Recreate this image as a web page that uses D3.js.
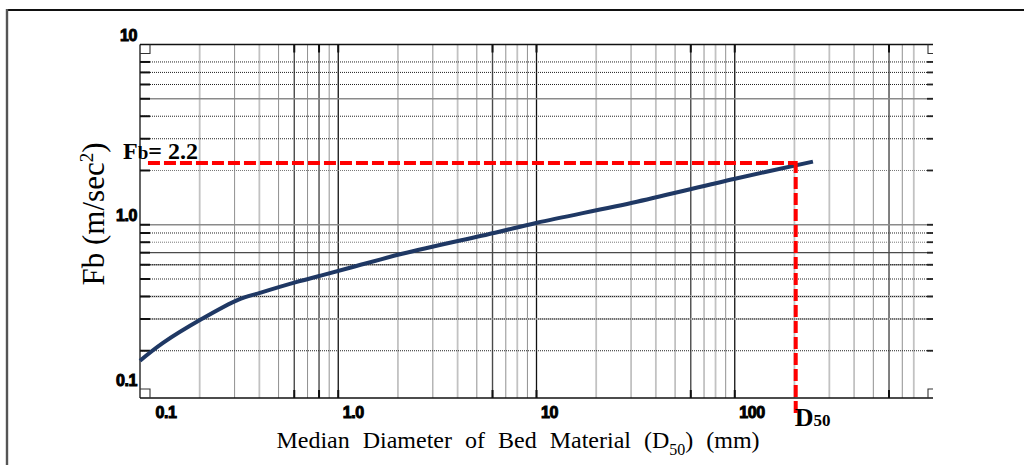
<!DOCTYPE html>
<html><head><meta charset="utf-8">
<script src="https://cdn.jsdelivr.net/npm/d3@7/dist/d3.min.js"></script>
<style>body{margin:0;background:#fff;} svg{display:block;}</style>
</head><body>
<svg id="c" width="1024" height="465"></svg>
<script>
// ---------------- data ----------------
const xTickValues = [0.1, 1, 10, 100];
const xTickLabels = ["0.1", "1.0", "10", "100"];
const yTickValues = [0.1, 1, 10];
const yTickLabels = ["0.1", "1.0", "10"];
const curveD50 = [0.1, 0.1306, 0.2056, 0.312, 0.403, 0.619, 0.809, 1.146, 2.10, 6.18, 10.06, 32.1, 100.3, 248];
const curveFb  = [0.176, 0.221, 0.3006, 0.383, 0.419, 0.482, 0.521, 0.577, 0.690, 0.903, 1.026, 1.342, 1.80, 2.239];
const markerFb = 2.2;
const markerD50 = 203;
const markerStartD50 = 0.1097;
const markerEndFb = 0.088;
const xDomain = [0.1, 1000];
const yDomain = [0.1, 10];

// ---------------- layout ----------------
const L = 140, R = 933, T = 44.5, Y01 = 405, FB = 398;
const svg = d3.select("#c");
const x = d3.scaleLog().domain(xDomain).range([L, R]);
const y = d3.scaleLog().domain(yDomain).range([Y01, T]);

// outer frame
svg.append("line").attr("x1", 7).attr("x2", 1024).attr("y1", 10).attr("y2", 10)
  .attr("stroke", "#111").attr("stroke-width", 2.2);
svg.append("line").attr("x1", 7).attr("x2", 7).attr("y1", 9).attr("y2", 465)
  .attr("stroke", "#555").attr("stroke-width", 2.4);

const styles = {
  major: {stroke: "#111", w: 1.3, dash: null},
  light: {stroke: "#c2c2c2", w: 1.8, dash: null},
  dot:   {stroke: "#222", w: 1, dash: "1,1"},
  dark:  {stroke: "#4a4a4a", w: 1.4, dash: null},
  gray:  {stroke: "#8a8a8a", w: 1.3, dash: null},
  lgdot: {stroke: "#777", w: 1, dash: "1,1"}
};

// vertical gridlines
const vLines = [];
[0.1, 1, 10, 100].forEach((base, di) => {
  d3.range(1, 10).forEach(m => {
    const v = base * m;
    let s;
    if (m === 1) s = "major";
    else if (m === 2 || m === 4) s = "light";
    else if (m === 3) s = di <= 1 ? "dot" : "light";
    else if (m === 5 || m === 7 || m === 9) s = "dot";
    else if (m === 6) s = "dark";
    else if (m === 8) s = di === 0 ? "dark" : "light";
    if (!(di === 3 && m === 9) && !(di === 0 && m === 1)) vLines.push({v, s});
  });
});
svg.append("g").selectAll("line").data(vLines).join("line")
  .attr("x1", d => x(d.v)).attr("x2", d => x(d.v))
  .attr("y1", T).attr("y2", FB)
  .attr("stroke", d => styles[d.s].stroke)
  .attr("stroke-width", d => styles[d.s].w)
  .attr("stroke-dasharray", d => styles[d.s].dash);

// horizontal gridlines
const hStyleMap = {
  "8": ["dot"], "7": ["dot"], "6": ["dot"], "5": ["gray"], "4": ["dot"], "3": ["dot"], "2": ["lgdot"],
  "1": ["gray"], "0.9": ["dot"], "0.8": ["lgdot"], "0.7": ["dark"], "0.6": ["gray", "dot"],
  "0.5": ["dot"], "0.4": ["light", "dot"], "0.3": ["light", "dot"], "0.2": ["dot"]
};
const hLines = [];
Object.keys(hStyleMap).forEach(k => hStyleMap[k].forEach(s => hLines.push({v: +k, s})));
svg.append("g").selectAll("line").data(hLines).join("line")
  .attr("x1", L).attr("x2", R)
  .attr("y1", d => y(d.v)).attr("y2", d => y(d.v))
  .attr("stroke", d => styles[d.s].stroke)
  .attr("stroke-width", d => styles[d.s].w)
  .attr("stroke-dasharray", d => styles[d.s].dash);

// short ticks on left and right for horizontal lines
const hVals = Object.keys(hStyleMap).map(Number);
svg.append("g").selectAll("line").data(hVals).join("line")
  .attr("x1", L).attr("x2", L + 10).attr("y1", d => y(d)).attr("y2", d => y(d))
  .attr("stroke", "#111").attr("stroke-width", 2);
svg.append("g").selectAll("line").data(hVals).join("line")
  .attr("x1", R - 6).attr("x2", R).attr("y1", d => y(d)).attr("y2", d => y(d))
  .attr("stroke", "#222").attr("stroke-width", 1.8);

// ticks on top/bottom for dark lines
const vTickVals = vLines.filter(d => d.s === "dark" || d.s === "major").map(d => d.v);
svg.append("g").selectAll("line").data(vTickVals).join("line")
  .attr("x1", d => x(d)).attr("x2", d => x(d)).attr("y1", FB - 8).attr("y2", FB)
  .attr("stroke", "#111").attr("stroke-width", 2);
svg.append("g").selectAll("line").data(vTickVals).join("line")
  .attr("x1", d => x(d)).attr("x2", d => x(d)).attr("y1", T).attr("y2", T + 8)
  .attr("stroke", "#111").attr("stroke-width", 2);

// frame lines
svg.append("line").attr("x1", L).attr("x2", R).attr("y1", T).attr("y2", T).attr("stroke", "#111").attr("stroke-width", 1.5);
svg.append("line").attr("x1", L).attr("x2", R).attr("y1", FB).attr("y2", FB).attr("stroke", "#111").attr("stroke-width", 1.5);
svg.append("line").attr("x1", L).attr("x2", L).attr("y1", T).attr("y2", FB).attr("stroke", "#111").attr("stroke-width", 1.3);

// small corner boxes
const cb = svg.append("g").attr("fill", "none").attr("stroke", "#333").attr("stroke-width", 1.1);
cb.append("path").attr("d", `M${L},${T+9}H${L+10}V${T}`);
cb.append("path").attr("d", `M${L},${FB-9}H${L+10}V${FB}`);
cb.append("path").attr("d", `M${R},${T+9}H${R-5}V${T}`);
cb.append("path").attr("d", `M${R},${FB-9}H${R-5}V${FB}`);

// axes labels
const tickFont = "'Liberation Sans', Arial, sans-serif";
const xAxis = d3.axisBottom(x).tickValues(xTickValues)
  .tickFormat((d, i) => xTickLabels[i]).tickSize(0);
const gx = svg.append("g").attr("transform", `translate(0,${FB})`).call(xAxis);
gx.select(".domain").remove();
gx.selectAll("text")
  .attr("y", 20).attr("dy", 0)
  .attr("x", (d, i) => i === 0 ? 15 : 4)
  .attr("text-anchor", "start")
  .style("font-family", tickFont)
  .style("font-weight", "bold").style("font-size", "16px")
  .style("letter-spacing", "-0.4px")
  .attr("fill", "#000").attr("stroke", "#000").attr("stroke-width", 1);

const yAxis = d3.axisLeft(y).tickValues(yTickValues)
  .tickFormat((d, i) => yTickLabels[i]).tickSize(0);
const gy = svg.append("g").attr("transform", `translate(${L - 3},0)`).call(yAxis);
gy.select(".domain").remove();
gy.selectAll("text")
  .attr("x", 0).attr("dy", 0)
  .attr("y", d => d <= 0.1 ? -20 : -4)
  .attr("text-anchor", "end")
  .style("font-family", tickFont)
  .style("font-weight", "bold").style("font-size", "16px")
  .style("letter-spacing", "-0.4px")
  .attr("fill", "#000").attr("stroke", "#000").attr("stroke-width", 1);

// curve
const pts = curveD50.map((d, i) => [d, curveFb[i]]);
svg.append("path").datum(pts)
  .attr("fill", "none").attr("stroke", "#1f3864").attr("stroke-width", 4)
  .attr("stroke-linecap", "butt")
  .attr("d", d3.line().x(d => x(d[0])).y(d => y(d[1])).curve(d3.curveCatmullRom.alpha(0.5)));

// red marker lines
svg.append("line")
  .attr("x1", x(markerStartD50)).attr("x2", x(markerD50))
  .attr("y1", y(markerFb)).attr("y2", y(markerFb))
  .attr("stroke", "#ff0000").attr("stroke-width", 4).attr("stroke-dasharray", "12,4");
svg.append("line")
  .attr("x1", x(markerD50)).attr("x2", x(markerD50))
  .attr("y1", y(markerFb) - 2).attr("y2", y(markerEndFb))
  .attr("stroke", "#ff0000").attr("stroke-width", 4).attr("stroke-dasharray", "12,4");

// annotation texts
const serif = "'Liberation Serif', 'Times New Roman', serif";
const fbT = svg.append("text").attr("x", 123).attr("y", 159)
  .style("font-family", serif).style("font-weight", "bold").style("font-size", "24px");
fbT.append("tspan").text("F");
fbT.append("tspan").style("font-size", "19px").text("b");
fbT.append("tspan").text("= 2.2");

const dT = svg.append("text").attr("x", x(markerD50) - 1).attr("y", 426)
  .style("font-family", serif).style("font-weight", "bold").style("font-size", "26px");
dT.append("tspan").text("D");
dT.append("tspan").style("font-size", "17px").text("50");

// axis titles
const xt = svg.append("text").attr("x", 518).attr("y", 448).attr("text-anchor", "middle")
  .style("font-family", serif).style("font-size", "24px").style("word-spacing", "7px");
xt.append("tspan").text("Median Diameter of Bed Material (D");
xt.append("tspan").attr("dy", 7).style("font-size", "16px").text("50");
xt.append("tspan").attr("dy", -7).text(") (mm)");

const yt = svg.append("text").attr("transform", "translate(104,214) rotate(-90)")
  .attr("text-anchor", "middle")
  .style("font-family", serif).style("font-size", "31px");
yt.append("tspan").text("Fb (m/sec");
yt.append("tspan").attr("dy", -11).style("font-size", "19px").text("2");
yt.append("tspan").attr("dy", 11).text(")");
</script>
</body></html>
